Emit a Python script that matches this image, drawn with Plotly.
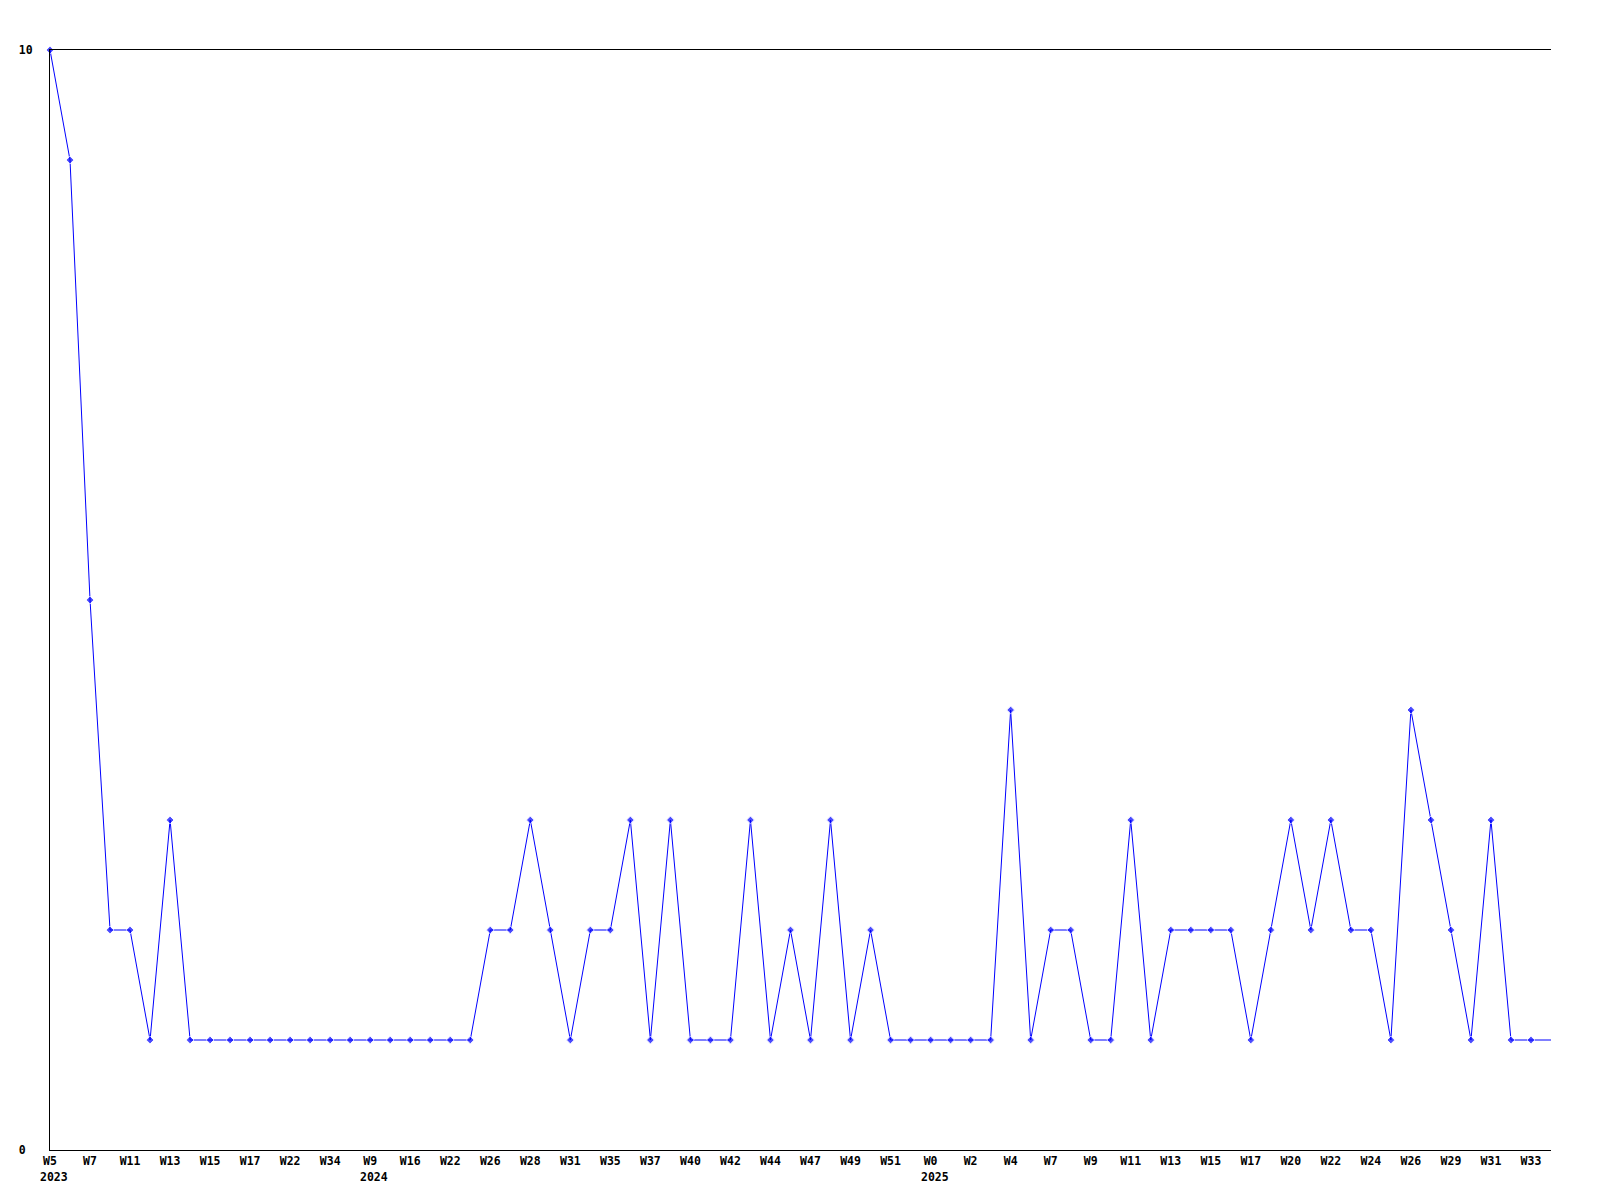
import plotly.graph_objects as go

# Data (weekly counts)
values = [10, 9, 5, 2, 2, 1, 3, 1, 1, 1,
          1, 1, 1, 1, 1, 1, 1, 1, 1, 1,
          1, 1, 2, 2, 3, 2, 1, 2, 2, 3,
          1, 3, 1, 1, 1, 3, 1, 2, 1, 3,
          1, 2, 1, 1, 1, 1, 1, 1, 4, 1,
          2, 2, 1, 1, 3, 1, 2, 2, 2, 2,
          1, 2, 3, 2, 3, 2, 2, 1, 4, 3,
          2, 1, 3, 1, 1, 1]

# Tick labels shown on every second point
week_labels = ["W5", "W7", "W11", "W13", "W15", "W17", "W22", "W34",
               "W9", "W16", "W22", "W26", "W28", "W31", "W35", "W37",
               "W40", "W42", "W44", "W47", "W49", "W51", "W0", "W2",
               "W4", "W7", "W9", "W11", "W13", "W15", "W17", "W20",
               "W22", "W24", "W26", "W29", "W31", "W33"]
label_step = 2

# Year markers: (point index, year)
year_positions = [0, 16, 44]
year_labels = ["2023", "2024", "2025"]

y_ticks = [0, 10]
y_ticktext = ["0\u00a0", "10"]

x = list(range(len(values)))
tick_idx = [i * label_step for i in range(len(week_labels))]

FONT = "DejaVu Sans Mono"
FSIZE = 11.5
BLUE = "#0000ff"

marker_sizes = [6] * len(values)
marker_sizes[-1] = 0

fig = go.Figure()
fig.add_trace(go.Scatter(
    x=x, y=values, mode="lines+markers",
    line=dict(color=BLUE, width=1),
    marker=dict(symbol="diamond", size=marker_sizes, color=BLUE),
    cliponaxis=False,
    hoverinfo="x+y", showlegend=False,
))

for xi, yr in zip(year_positions, year_labels):
    fig.add_annotation(
        x=xi, y=0, xref="x", yref="paper", text=yr, showarrow=False,
        xanchor="left", yanchor="middle", xshift=-12, yshift=-27,
        font=dict(family=FONT, size=FSIZE, color="black", weight="bold"),
    )

fig.update_layout(
    width=1600, height=1200,
    margin=dict(l=42, r=57, t=42, b=58),
    paper_bgcolor="white", plot_bgcolor="white",
    xaxis=dict(
        range=[0, len(values) - 1],
        tickmode="array", tickvals=tick_idx, ticktext=week_labels,
        showgrid=False, zeroline=False,
        showline=True, linecolor="black", linewidth=1, mirror=True,
        ticks="", tickangle=0,
        tickfont=dict(family=FONT, size=FSIZE, color="black", weight="bold"),
    ),
    yaxis=dict(
        range=[0, 10],
        tickmode="array", tickvals=y_ticks, ticktext=y_ticktext,
        showgrid=False,
        zeroline=False,
        showline=True, linecolor="black", linewidth=1,
        ticks="", ticklabelstandoff=14,
        tickfont=dict(family=FONT, size=FSIZE, color="black", weight="bold"),
    ),
)

fig.write_html("out.html")
